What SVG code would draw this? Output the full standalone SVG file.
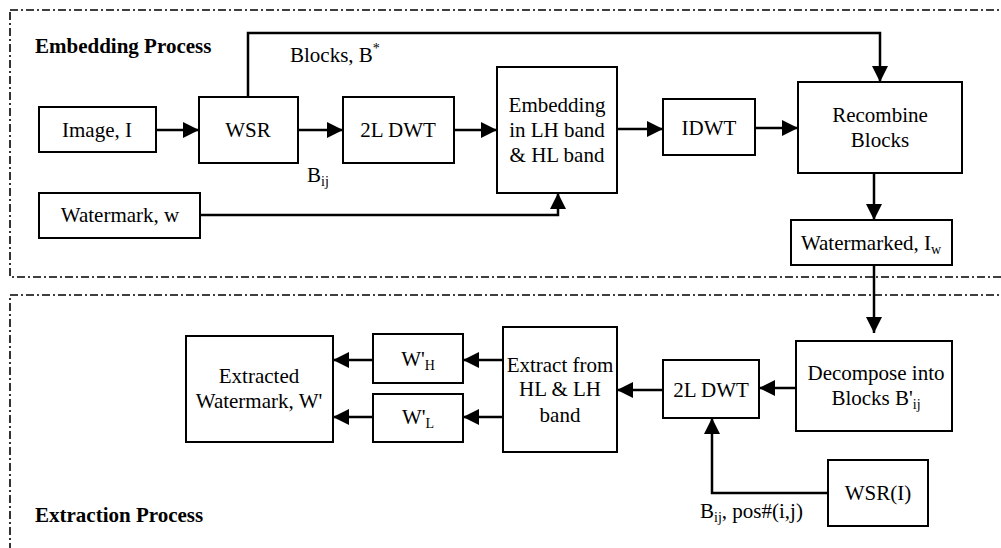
<svg xmlns="http://www.w3.org/2000/svg" width="1001" height="548" viewBox="0 0 1001 548">
<style>
.border{fill:none;stroke:#000;stroke-width:1.6;stroke-dasharray:8 3 2 3}
.box{fill:#fff;stroke:#000;stroke-width:2}
text{font-family:'Liberation Serif',Tinos,'Times New Roman',Times,serif;font-size:21px;fill:#000}
.t{text-anchor:middle}
.h{font-weight:bold}
.s{font-size:14px}
.c{fill:none;stroke:#000;stroke-width:2.5;marker-end:url(#ah)}
</style>
<defs>
<marker id="ah" markerUnits="userSpaceOnUse" markerWidth="16" markerHeight="16" refX="16" refY="8" orient="auto">
<path d="M0,0 L16,8 L0,16 z" fill="#000"/>
</marker>
</defs>
<rect class="border" x="10" y="10" width="1010" height="267"/>
<rect class="border" x="10" y="295" width="1010" height="270"/>
<text class="h" x="35" y="53">Embedding Process</text>
<text class="h" x="35" y="522">Extraction Process</text>
<g id="connectors">
<path class="c" d="M156,130 H199"/>
<path class="c" d="M298,130 H343"/>
<path class="c" d="M454,130 H497"/>
<path class="c" d="M617,129 H663"/>
<path class="c" d="M755,128 H798"/>
<path class="c" d="M248,97 V33 H880 V82"/>
<path class="c" d="M200,215 H558 V193"/>
<path class="c" d="M874,173 V220"/>
<path class="c" d="M874,265 V333"/>
<path class="c" d="M796,388 H759"/>
<path class="c" d="M663,390 H617"/>
<path class="c" d="M503,360 H463"/>
<path class="c" d="M503,417 H463"/>
<path class="c" d="M373,360 H333"/>
<path class="c" d="M373,417 H333"/>
<path class="c" d="M828,493 H712 V418"/>
<text x="290" y="62">Blocks, B<tspan class="s" dy="-9">*</tspan></text>
<text x="307" y="182">B<tspan class="s" dy="4">ij</tspan></text>
<text x="700" y="518">B<tspan class="s" dy="4">ij</tspan><tspan dy="-4">, pos#(i,j)</tspan></text>
</g>
<g id="image"><rect class="box" x="39" y="107" width="117" height="45"/><text class="t" x="97" y="137">Image, I</text></g>
<g id="wsr"><rect class="box" x="199" y="97" width="99" height="66"/><text class="t" x="248" y="137">WSR</text></g>
<g id="dwt1"><rect class="box" x="343" y="97" width="111" height="66"/><text class="t" x="398" y="137">2L DWT</text></g>
<g id="embed"><rect class="box" x="497" y="67" width="120" height="126"/><text class="t" x="557" y="112">Embedding</text><text class="t" x="557" y="137">in LH band</text><text class="t" x="557" y="162">&amp; HL band</text></g>
<g id="idwt"><rect class="box" x="663" y="99" width="92" height="56"/><text class="t" x="709" y="135">IDWT</text></g>
<g id="recombine"><rect class="box" x="798" y="82" width="164" height="91"/><text class="t" x="880" y="122">Recombine</text><text class="t" x="880" y="147">Blocks</text></g>
<g id="watermark"><rect class="box" x="39" y="193" width="161" height="45"/><text class="t" x="120" y="222">Watermark, w</text></g>
<g id="watermarked"><rect class="box" x="791" y="220" width="161" height="45"/><text class="t" x="871" y="250">Watermarked, I<tspan class="s" dy="4">w</tspan></text></g>
<g id="decompose"><rect class="box" x="796" y="341" width="156" height="90"/><text class="t" x="876" y="380">Decompose into</text><text class="t" x="876" y="405">Blocks B'<tspan class="s" dy="4">ij</tspan></text></g>
<g id="dwt2"><rect class="box" x="663" y="360" width="96" height="58"/><text class="t" x="711" y="397">2L DWT</text></g>
<g id="extract"><rect class="box" x="503" y="327" width="114" height="125"/><text class="t" x="560" y="372">Extract from</text><text class="t" x="560" y="396">HL &amp; LH</text><text class="t" x="560" y="422">band</text></g>
<g id="wh"><rect class="box" x="373" y="334" width="90" height="49"/><text class="t" x="418" y="366">W'<tspan class="s" dy="4">H</tspan></text></g>
<g id="wl"><rect class="box" x="373" y="394" width="90" height="48"/><text class="t" x="418" y="424">W'<tspan class="s" dy="4">L</tspan></text></g>
<g id="extracted"><rect class="box" x="186" y="336" width="147" height="106"/><text class="t" x="259" y="383">Extracted</text><text class="t" x="259" y="408">Watermark, W'</text></g>
<g id="wsri"><rect class="box" x="828" y="460" width="100" height="66"/><text class="t" x="878" y="500">WSR(I)</text></g>
</svg>
